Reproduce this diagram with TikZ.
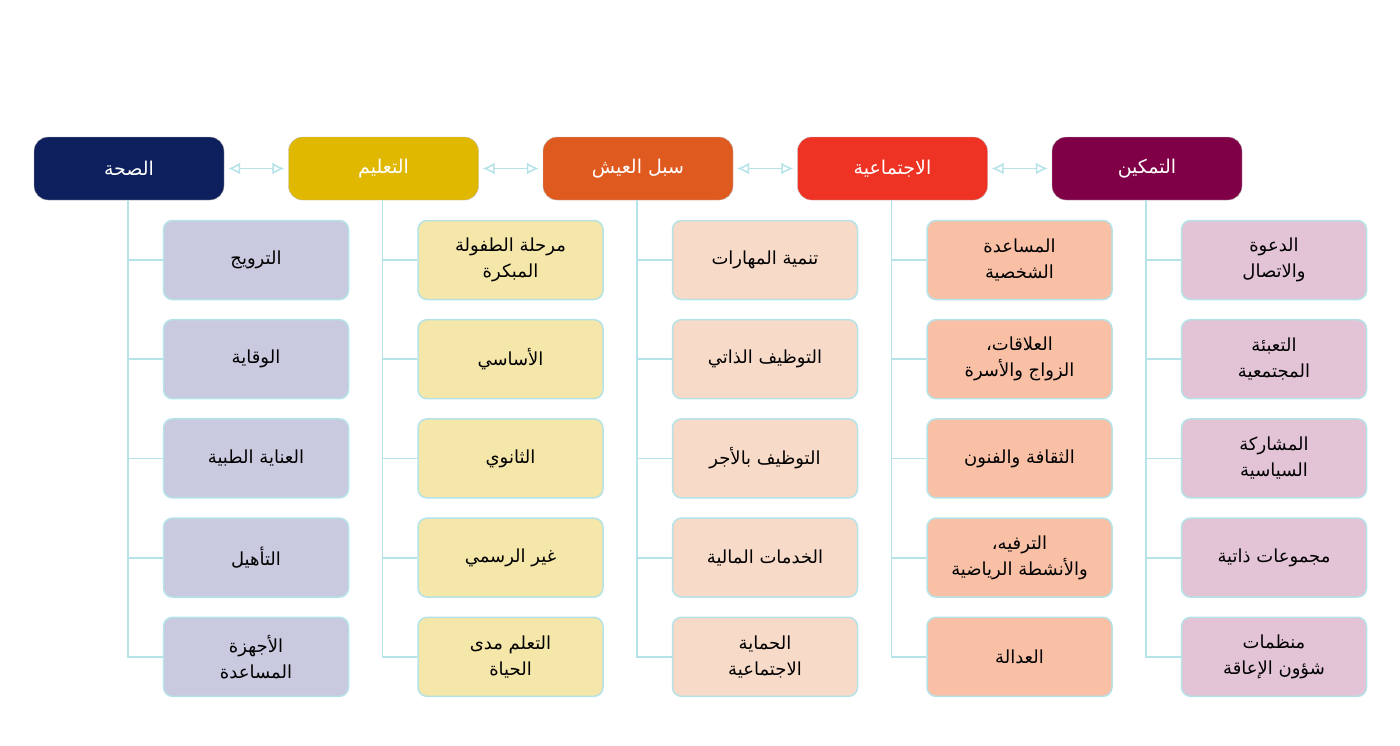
\documentclass[tikz,border=0pt]{standalone}
\usepackage{fontspec}
\usetikzlibrary{arrows.meta}
\TeXXeTstate=1
\newfontfamily\arabicfont[Script=Arabic]{DejaVu Sans}
\newcommand{\ar}[1]{\beginR #1\endR}
\definecolor{cH}{HTML}{0D1F5C}\definecolor{cE}{HTML}{E0B800}\definecolor{cL}{HTML}{DF5A1F}
\definecolor{cS}{HTML}{EE3224}\definecolor{cM}{HTML}{7F0046}
\definecolor{kH}{HTML}{C9C9DF}\definecolor{kE}{HTML}{F5E6A9}\definecolor{kL}{HTML}{F7DAC8}
\definecolor{kS}{HTML}{F9C0A5}\definecolor{kM}{HTML}{E3C4D6}
\definecolor{ln}{HTML}{B5E3E8}
\tikzset{
 head/.style={draw=gray!50,rounded corners=14pt,minimum width=190pt,minimum height=63pt,text=white,font=\arabicfont\fontsize{19}{22}\selectfont},
 child/.style={draw=ln,line width=1.5pt,rounded corners=9pt,minimum width=185pt,minimum height=79pt,align=center,font=\arabicfont\fontsize{18}{26}\selectfont},
 link/.style={draw=ln,line width=1.8pt},
 harrow/.style={draw=ln,line width=1.5pt,{Latex[open,length=12pt,width=12pt]}-{Latex[open,length=12pt,width=12pt]}}
}
\begin{document}
\begin{tikzpicture}[x=1pt,y=-1pt]
\useasboundingbox (0,0) rectangle (1400,745);
\fill[white] (0,0) rectangle (1400,745);
\foreach \i/\c/\k/\t/\aa/\bb/\cc/\dd/\ee in {
 0/cH/kH/{الصحة}/{\ar{الترويج}}/{\ar{الوقاية}}/{\ar{العناية الطبية}}/{\ar{التأهيل}}/{\ar{الأجهزة}\\\ar{المساعدة}},
 1/cE/kE/{التعليم}/{\ar{مرحلة الطفولة}\\\ar{المبكرة}}/{\ar{الأساسي}}/{\ar{الثانوي}}/{\ar{غير الرسمي}}/{\ar{التعلم مدى}\\\ar{الحياة}},
 2/cL/kL/{سبل العيش}/{\ar{تنمية المهارات}}/{\ar{التوظيف الذاتي}}/{\ar{التوظيف بالأجر}}/{\ar{الخدمات المالية}}/{\ar{الحماية}\\\ar{الاجتماعية}},
 3/cS/kS/{الاجتماعية}/{\ar{المساعدة}\\\ar{الشخصية}}/{\ar{العلاقات،}\\\ar{الزواج والأسرة}}/{\ar{الثقافة والفنون}}/{\ar{الترفيه،}\\\ar{والأنشطة الرياضية}}/{\ar{العدالة}},
 4/cM/kM/{التمكين}/{\ar{الدعوة}\\\ar{والاتصال}}/{\ar{التعبئة}\\\ar{المجتمعية}}/{\ar{المشاركة}\\\ar{السياسية}}/{\ar{مجموعات ذاتية}}/{\ar{منظمات}\\\ar{شؤون الإعاقة}}}
{
 \pgfmathsetmacro{\hx}{129+254.5*\i}
 \pgfmathsetmacro{\cx}{256+254.5*\i}
 \pgfmathsetmacro{\tx}{129+254.5*\i-1}
 \node[head,fill=\c] (h\i) at (\hx,168.5) {\ar{\t}};
 \coordinate (t\i) at (\tx,658);
 \draw[link] (\tx,200) -- (t\i);
 \foreach \j/\txt in {0/\aa,1/\bb,2/\cc,3/\dd,4/\ee}{
  \node[child,fill=\k] (c\i\j) at (\cx,{260+99.2*\j}) {\txt};
  \draw[link] (\tx,{260+99.2*\j}) -- (c\i\j.west);
 }
}
\foreach \a/\b in {0/1,1/2,2/3,3/4}{\draw[harrow] (h\a.east) ++(4,0) -- ([xshift=-4pt]h\b.west);}
\end{tikzpicture}
\end{document}
